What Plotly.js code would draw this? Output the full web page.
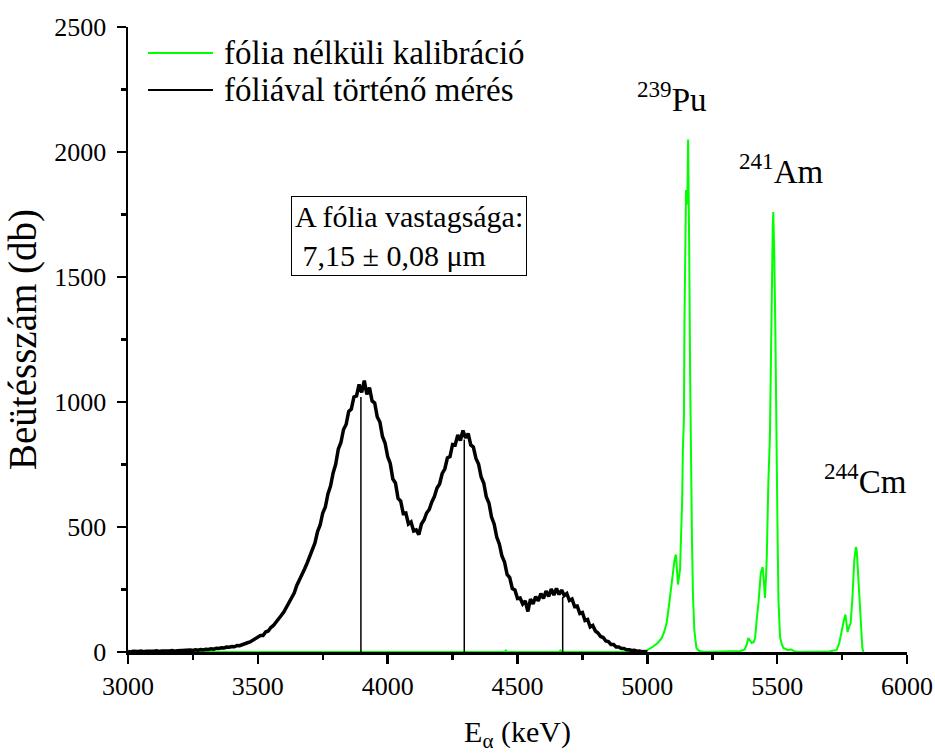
<!DOCTYPE html>
<html>
<head>
<meta charset="utf-8">
<script src="https://cdn.plot.ly/plotly-3.0.1.min.js"></script>
<style>html,body{margin:0;padding:0;background:#fff;}#chart{width:935px;height:753px;}</style>
</head>
<body>
<div id="chart"></div>
<script>
const blackStart = 3000;
const blackStep = 10;
const blackCounts = [
  2,0,3,1,2,4,1,3,2,4,
  3,5,2,4,3,5,4,6,3,5,
  6,4,7,6,8,6,9,7,10,8,
  11,10,13,11,15,14,17,16,20,19,
  22,21,26,25,30,32,37,40,46,50,
  56,66,66,80,84,98,106,118,130,146,
  160,180,194,220,236,266,286,312,332,356,
  380,412,436,482,508,556,580,632,664,716,
  752,812,838,890,910,962,972,1020,1024,1070,
  1038,1086,1030,1058,1004,996,940,920,862,836,
  782,754,692,676,614,604,554,556,512,520,
  484,488,470,512,528,556,570,600,622,656,
  672,714,732,776,782,830,828,868,846,886,
  856,874,828,820,774,752,700,676,620,596,
  540,512,460,432,384,360,310,298,254,248,
  214,216,192,204,162,212,192,222,204,234,
  214,244,222,252,228,254,230,248,226,234,
  206,212,182,184,154,158,126,130,100,106,
  84,76,62,58,44,42,30,30,20,20,
  14,14,9,9,6,7,3,4,1,2,0
];
const blackEnergy = blackCounts.map((_, i) => blackStart + i * blackStep);

// Green series: calibration without foil
const greenEnergy = [
  3000,3500,4000,4450,4455,4460,4660,4665,4670,4990,
  5000,5020,5040,5055,5065,5075,5085,5095,5100,5105,5110,5114,5118,5122,5126,5130,5134,5137,5141,5143,5146,5149,5152,5154,5157,5159,5161,5165,5169,5172,5176,5181,5189,5200,5220,
  5360,5375,5383,5389,5395,5402,5410,5415,5421,5428,5437,5444,5449,5453,5457,5460,5466,5472,5476,5480,5483,5485,5487,5489,5493,5497,5501,5505,5511,5518,5524,5540,5555,5565,5580,
  5700,5715,5729,5739,5748,5757,5763,5767,5771,5777,5783,5790,5797,5803,5806,5808,5814,5820,5828,5832
];
const greenCounts = [
  0,0,0,0,6,0,0,6,0,0,
  8,20,36,55,80,120,200,290,330,370,390,330,270,300,330,470,600,816,936,1320,1700,1848,1820,1790,2050,1900,1640,1090,640,440,220,88,16,4,0,
  4,10,30,56,45,36,40,55,128,196,316,340,280,216,300,380,676,860,1168,1556,1700,1760,1690,1580,1288,780,516,208,60,30,16,8,10,3,0,
  2,4,8,35,88,128,150,110,80,100,116,220,368,420,410,380,260,128,16,0
];

// Peak position markers (keV) and their heights (counts)
const markerEnergy = [3897, 4295, 4674];
const markerHeight = [1020, 850, 220];

const seriesNames = ["fólia nélküli kalibráció", "fóliával történő mérés"];
const seriesColors = ["#00ff00", "#000000"];

const mx = [], my = [];
markerEnergy.forEach((e, i) => { mx.push(e, e, null); my.push(0, markerHeight[i], null); });

const serif = "Liberation Serif";

const traces = [
  {x: greenEnergy, y: greenCounts, type: "scatter", mode: "lines", name: seriesNames[0],
   line: {color: seriesColors[0], width: 2}},
  {x: blackEnergy, y: blackCounts, type: "scatter", mode: "lines", name: seriesNames[1],
   line: {color: seriesColors[1], width: 3.5}},
  {x: mx, y: my, type: "scatter", mode: "lines", showlegend: false,
   line: {color: "#000000", width: 1.5}, hoverinfo: "skip"}
];

// Legend (drawn as key lines + labels in paper space)
const legendRows = [0.9584, 0.8992];
const legendShapes = seriesNames.map((n, i) => ({
  type: "line", xref: "paper", yref: "paper",
  x0: 0.0257, x1: 0.1091, y0: legendRows[i], y1: legendRows[i],
  line: {color: seriesColors[i], width: 2}
}));
const legendLabels = seriesNames.map((n, i) => ({
  xref: "paper", yref: "paper", x: 0.1207, y: legendRows[i],
  xanchor: "left", yanchor: "middle", showarrow: false, text: n,
  font: {family: serif, size: 33, color: "#000"}
}));

const layout = {
  width: 935, height: 753,
  margin: {l: 128, r: 28, t: 27, b: 101},
  paper_bgcolor: "#ffffff", plot_bgcolor: "#ffffff",
  font: {family: serif, size: 26, color: "#000"},
  showlegend: false,
  xaxis: {range: [3000, 6000], tickvals: [3000,3500,4000,4500,5000,5500,6000],
          showline: true, linecolor: "#000", linewidth: 2.5, ticks: "outside",
          ticklen: 9, tickwidth: 2.5, tickcolor: "#000", showgrid: false, zeroline: false,
          minor: {dtick: 250, tick0: 3000, ticks: "outside", ticklen: 5, tickwidth: 2.5, tickcolor: "#000", showgrid: false},
          tickfont: {family: serif, size: 26, color: "#000"},
          title: {text: "E<sub>α</sub> (keV)", font: {family: serif, size: 30, color: "#000"}, standoff: 26}},
  yaxis: {range: [0, 2500], tickvals: [0,500,1000,1500,2000,2500],
          showline: true, linecolor: "#000", linewidth: 2.5, ticks: "outside",
          ticklen: 9, tickwidth: 2.5, tickcolor: "#000", showgrid: false, zeroline: false,
          ticklabelstandoff: 5,
          minor: {dtick: 250, tick0: 0, ticks: "outside", ticklen: 5, tickwidth: 2.5, tickcolor: "#000", showgrid: false},
          tickfont: {family: serif, size: 26, color: "#000"},
          title: {text: "Beütésszám (db)", font: {family: serif, size: 39, color: "#000"}, standoff: 6}},
  shapes: legendShapes,
  annotations: legendLabels.concat([
    {x: 5095, y: 2220, xref: "x", yref: "y", showarrow: false,
     text: "<sup>239</sup>Pu", font: {family: serif, size: 33, color: "#000"}},
    {x: 5515, y: 1932, xref: "x", yref: "y", showarrow: false,
     text: "<sup>241</sup>Am", font: {family: serif, size: 33, color: "#000"}},
    {x: 5840, y: 692, xref: "x", yref: "y", showarrow: false,
     text: "<sup>244</sup>Cm", font: {family: serif, size: 33, color: "#000"}},
    {x: 4082, y: 1664, xref: "x", yref: "y", showarrow: false, align: "left",
     text: "A fólia vastagsága:<br> 7,15 ± 0,08 μm",
     font: {family: serif, size: 30, color: "#000"},
     bordercolor: "#000", borderwidth: 1, borderpad: 3, bgcolor: "#fff"}
  ])
};

Plotly.newPlot("chart", traces, layout, {staticPlot: true, displayModeBar: false});
</script>
</body>
</html>
